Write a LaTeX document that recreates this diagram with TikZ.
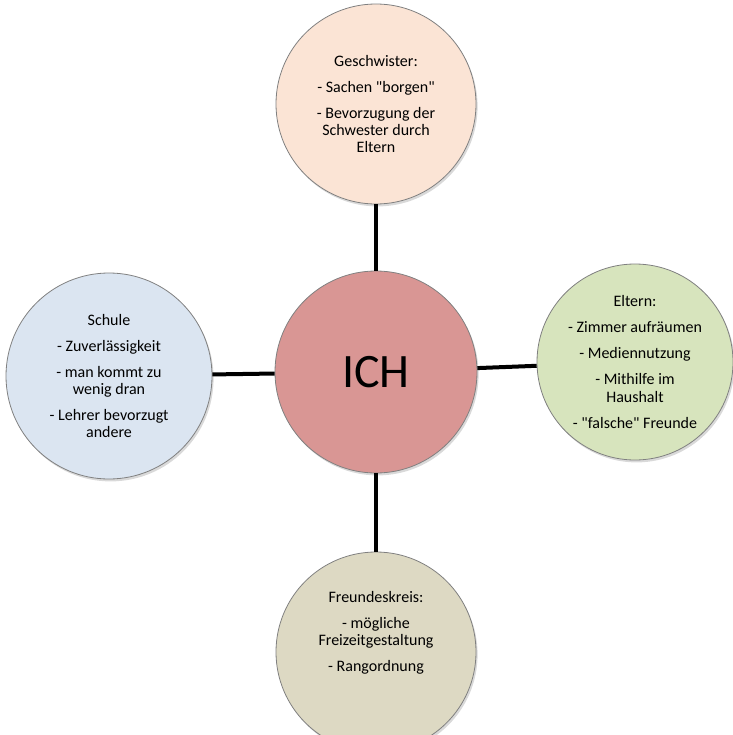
\documentclass[tikz,border=0pt]{standalone}
\usepackage{fontspec}
\setmainfont{Carlito}[Ligatures=TeXOff]
\usetikzlibrary{shadows}
\definecolor{ichrot}{RGB}{217,150,148}
\definecolor{pfirsich}{RGB}{251,228,213}
\definecolor{hellgruen}{RGB}{215,228,189}
\definecolor{hellblau}{RGB}{219,229,241}
\definecolor{beige}{RGB}{221,217,195}
\begin{document}
\begin{tikzpicture}[x=0.75pt,y=-0.75pt,line join=round,
	thema/.style={circle,draw=black!50,line width=0.6pt,inner sep=0pt,align=center,
		font=\fontsize{12}{12.8}\selectfont,
		drop shadow={opacity=0.3,shadow xshift=1.2pt,shadow yshift=-1.8pt}},
	verbindung/.style={line width=3pt}]
	\useasboundingbox (0,0) rectangle (732,735);
	% Mitte
	\node[thema,fill=ichrot,minimum size=151.5pt,font=\fontsize{36}{40}\selectfont] (ich) at (376,372) {ICH};
	% Themen rundherum
	\node[thema,fill=pfirsich,minimum size=150pt] (geschwister) at (376,104)
		{Geschwister:\\[6.7pt] - Sachen "borgen"\\[6.7pt] - Bevorzugung der\\ Schwester durch\\ Eltern};
	\node[thema,fill=hellgruen,minimum size=147pt] (eltern) at (635,362)
		{Eltern:\\[6.7pt] - Zimmer aufräumen\\[6.7pt] - Mediennutzung\\[6.7pt] - Mithilfe im\\ Haushalt\\[6.7pt] - "falsche" Freunde};
	\node[thema,fill=hellblau,minimum size=154.5pt] (schule) at (109,376)
		{Schule\\[6.7pt] - Zuverlässigkeit\\[6.7pt] - man kommt zu\\ wenig dran\\[6.7pt] - Lehrer bevorzugt\\ andere};
	\node[thema,fill=beige,minimum size=150pt] (freunde) at (376,652)
		{Freundeskreis:\\[6.7pt] - mögliche\\ Freizeitgestaltung\\[6.7pt] - Rangordnung\\[18pt]};
	% Linien
	\draw[verbindung] (geschwister) -- (ich);
	\draw[verbindung] (ich) -- (eltern);
	\draw[verbindung] (schule) -- (ich);
	\draw[verbindung] (ich) -- (freunde);
\end{tikzpicture}
\end{document}
